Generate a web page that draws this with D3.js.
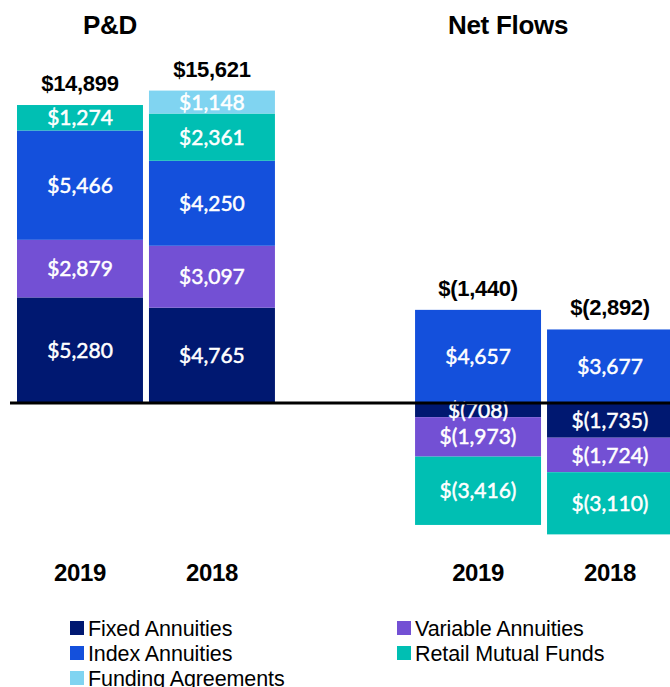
<!DOCTYPE html>
<html>
<head>
<meta charset="utf-8">
<script src="https://cdn.jsdelivr.net/npm/d3@7"></script>
<style>
  html, body { margin: 0; padding: 0; background: #fff; }
  svg { display: block; }
</style>
</head>
<body>
<div id="chart"></div>
<script>
// Stacked P&D and net flows, by product line
const groups = ["P&D", "Net Flows"];
const years = ["2019", "2018"];
const products = ["Fixed Annuities", "Variable Annuities", "Index Annuities", "Retail Mutual Funds", "Funding Agreements"];

const fixedAnnuities = [5280, 4765, -708, -1735];
const variableAnnuities = [2879, 3097, -1973, -1724];
const indexAnnuities = [5466, 4250, 4657, 3677];
const retailMutualFunds = [1274, 2361, -3416, -3110];
const fundingAgreements = [0, 1148, 0, 0];
const totals = [14899, 15621, -1440, -2892];

const legendLeft = ["Fixed Annuities", "Index Annuities", "Funding Agreements"];
const legendRight = ["Variable Annuities", "Retail Mutual Funds"];

const colors = {
    "Fixed Annuities": "#001871",
    "Variable Annuities": "#7350d4",
    "Index Annuities": "#1450dc",
    "Retail Mutual Funds": "#00bfb3",
    "Funding Agreements": "#80d4f1"
};

const rows = [];
groups.forEach((g, gi) => {
    years.forEach((yr, yi) => {
        const i = gi * 2 + yi;
        rows.push({
            group: g,
            year: yr,
            total: totals[i],
            "Fixed Annuities": fixedAnnuities[i],
            "Variable Annuities": variableAnnuities[i],
            "Index Annuities": indexAnnuities[i],
            "Retail Mutual Funds": retailMutualFunds[i],
            "Funding Agreements": fundingAgreements[i]
        });
    });
});

const width = 670, height = 687;

const svg = d3.select("#chart").append("svg")
    .attr("width", width)
    .attr("height", height);

const x0 = d3.scaleBand().domain(groups).range([17, 673]).paddingInner(0.352);
const x1 = d3.scaleBand().domain(years).range([0, x0.bandwidth()]).paddingInner(0.0455);
const y = d3.scaleLinear().domain([-7000, 16000]).range([543, 83]);

const fmt = v => v < 0 ? `$(${d3.format(",")(-v)})` : `$${d3.format(",")(v)}`;

const series = d3.stack()
    .keys(products)
    .offset(d3.stackOffsetDiverging)(rows);

const barX = d => x0(d.data.group) + x1(d.data.year);

// bars
series.forEach(s => {
    svg.append("g")
        .selectAll("rect")
        .data(s.filter(d => d[1] !== d[0]))
        .join("rect")
        .attr("x", barX)
        .attr("width", x1.bandwidth())
        .attr("y", d => y(Math.max(d[0], d[1])))
        .attr("height", d => Math.abs(y(d[0]) - y(d[1])))
        .attr("fill", colors[s.key]);
});

// segment labels
series.forEach(s => {
    svg.append("g")
        .selectAll("text")
        .data(s.filter(d => d[1] !== d[0]))
        .join("text")
        .attr("x", d => barX(d) + x1.bandwidth() / 2)
        .attr("y", d => y((d[0] + d[1]) / 2))
        .attr("dy", "0.36em")
        .attr("text-anchor", "middle")
        .attr("font-family", "Lato, 'Open Sans', sans-serif")
        .attr("font-size", "21px")
        .attr("fill", "#fff")
        .attr("stroke", "#fff")
        .attr("stroke-width", 0.5)
        .text(d => fmt(d.data[s.key]));
});

// zero line
svg.append("line")
    .attr("x1", 10)
    .attr("x2", width)
    .attr("y1", y(0))
    .attr("y2", y(0))
    .attr("stroke", "#000")
    .attr("stroke-width", 3);

// totals above the positive stack
const posTop = d => d3.sum(products, k => Math.max(0, d[k]));
svg.append("g")
    .selectAll("text")
    .data(rows)
    .join("text")
    .attr("x", d => x0(d.group) + x1(d.year) + x1.bandwidth() / 2)
    .attr("y", d => y(posTop(d)) - 14)
    .attr("text-anchor", "middle")
    .attr("font-family", "'Liberation Sans', Arial, sans-serif")
    .attr("font-weight", "bold")
    .attr("font-size", "22px")
    .attr("letter-spacing", "-0.3px")
    .attr("fill", "#000")
    .text(d => fmt(d.total));

// group titles
svg.append("g")
    .selectAll("text")
    .data(groups)
    .join("text")
    .attr("x", d => x0(d) + x0.bandwidth() / 2 - 36)
    .attr("y", 34)
    .attr("text-anchor", "middle")
    .attr("font-family", "'Liberation Sans', Arial, sans-serif")
    .attr("font-weight", "bold")
    .attr("font-size", "26px")
    .attr("letter-spacing", "-0.3px")
    .text(d => d);

// year labels
svg.append("g")
    .selectAll("text")
    .data(rows)
    .join("text")
    .attr("x", d => x0(d.group) + x1(d.year) + x1.bandwidth() / 2)
    .attr("y", 581)
    .attr("text-anchor", "middle")
    .attr("font-family", "'Liberation Sans', Arial, sans-serif")
    .attr("font-weight", "bold")
    .attr("font-size", "24px")
    .attr("letter-spacing", "-0.4px")
    .text(d => d.year);

// legend
const legendCols = [{ items: legendLeft, x: 70 }, { items: legendRight, x: 397 }];
legendCols.forEach(col => {
    const item = svg.append("g")
        .selectAll("g")
        .data(col.items)
        .join("g")
        .attr("transform", (d, i) => `translate(${col.x},${628 + i * 25})`);

    item.append("rect")
        .attr("x", 0)
        .attr("y", -7)
        .attr("width", 14)
        .attr("height", 14)
        .attr("fill", d => colors[d]);

    item.append("text")
        .attr("x", 18)
        .attr("dy", "0.36em")
        .attr("font-family", "'Liberation Sans', Arial, sans-serif")
        .attr("font-size", "21.5px")
        .attr("letter-spacing", "-0.1px")
        .attr("fill", "#000")
        .text(d => d);
});
</script>
</body>
</html>
